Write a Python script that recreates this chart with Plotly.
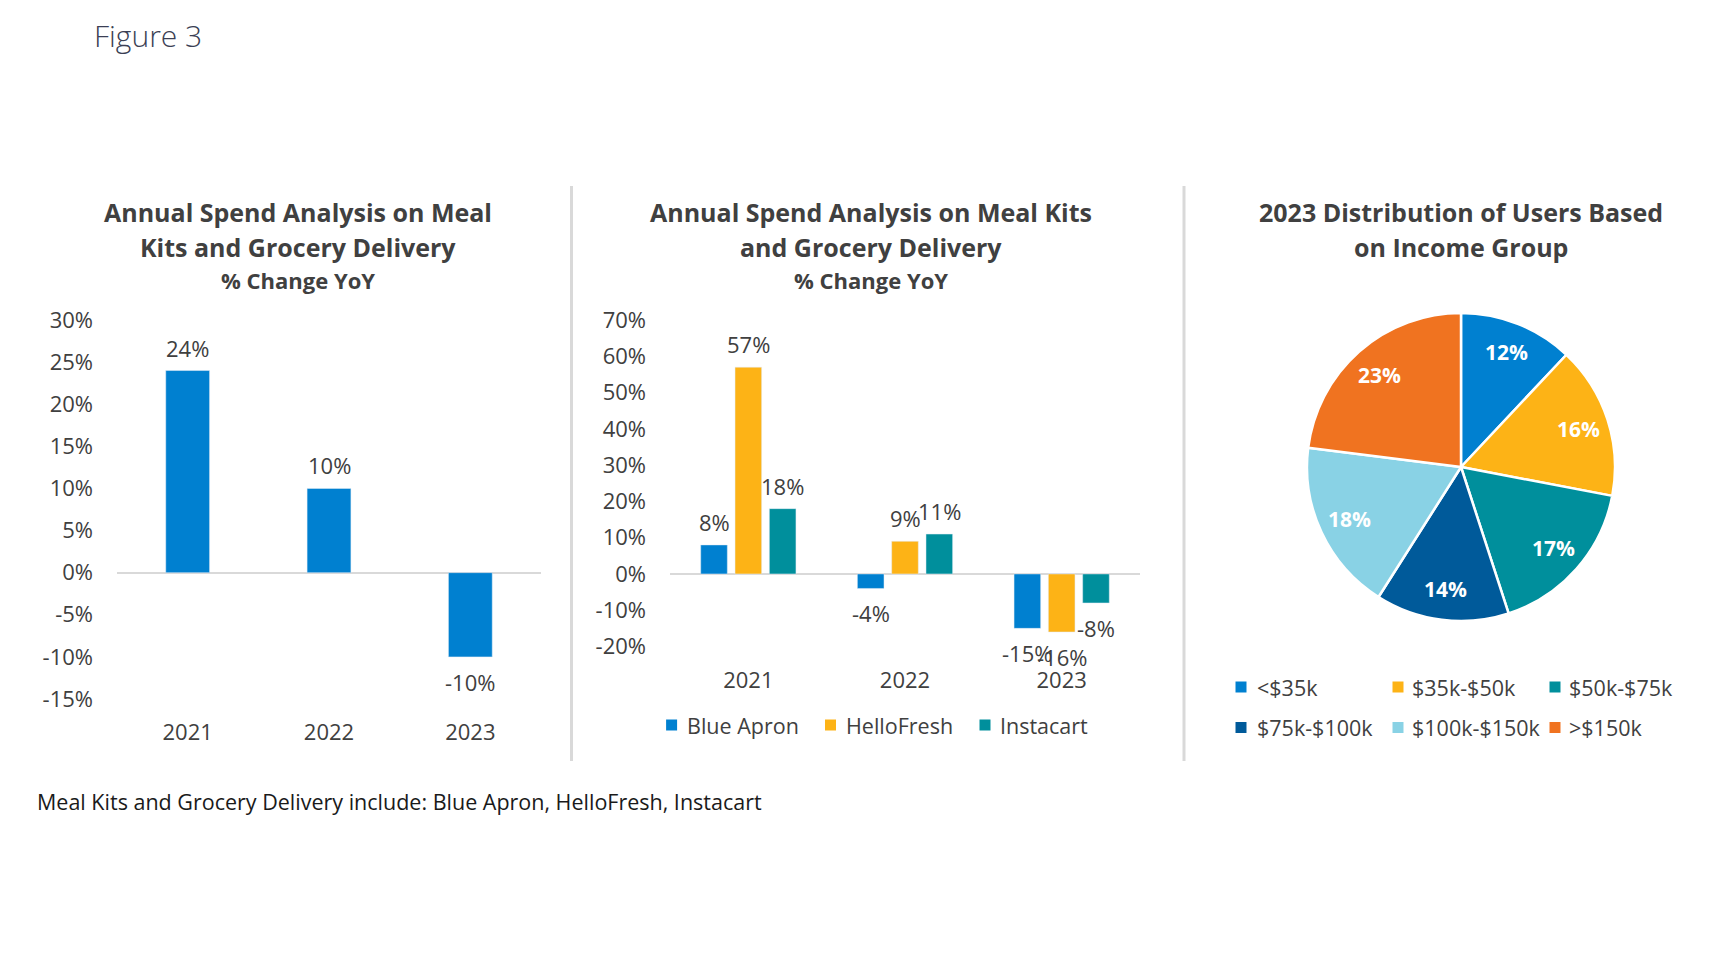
import math
import plotly.graph_objects as go

# ---------------- data ----------------
years = ["2021", "2022", "2023"]
total_change = [24, 10, -10]

brands = ["Blue Apron", "HelloFresh", "Instacart"]
blue_apron = [8, -4, -15]
hellofresh = [57, 9, -16]
instacart = [18, 11, -8]

income_groups = ["<$35k", "$35k-$50k", "$50k-$75k", "$75k-$100k", "$100k-$150k", ">$150k"]
income_share = [12, 16, 17, 14, 18, 23]

y1_ticks = [30, 25, 20, 15, 10, 5, 0, -5, -10, -15]
y2_ticks = [70, 60, 50, 40, 30, 20, 10, 0, -10, -20]

# ---------------- styling ----------------
W, H = 1718, 964
OX, OY = 8, 8          # page body margin offset
FONT = "Open Sans"
TXT = "#404040"
BLUE = "#0080D0"
YELLOW = "#FDB316"
TEAL = "#008F9C"
DBLUE = "#005A9A"
LBLUE = "#89D2E5"
ORANGE = "#F07320"
brand_colors = [BLUE, YELLOW, TEAL]
pie_colors = [BLUE, YELLOW, TEAL, DBLUE, LBLUE, ORANGE]


def px(x):
    return (x - OX) / W


def py(y):
    return 1 - (y - OY) / H


fig = go.Figure()

# ---- chart 1 ----
fig.add_trace(go.Bar(x=years, y=total_change, marker_color=BLUE, width=0.31,
                     xaxis="x", yaxis="y", showlegend=False, hoverinfo="skip"))

# ---- chart 2 ----
bw = 0.17
step = 0.219
series2 = [blue_apron, hellofresh, instacart]
for i, (name, vals) in enumerate(zip(brands, series2)):
    c_off = (i - 1) * step
    fig.add_trace(go.Bar(x=years, y=vals, name=name, marker_color=brand_colors[i],
                         width=bw, offset=c_off - bw / 2,
                         xaxis="x2", yaxis="y2", showlegend=False, hoverinfo="skip"))

# ---- chart 3 ----
PCX, PCY, PR = 1461, 467, 154
fig.add_trace(go.Pie(labels=income_groups, values=income_share, sort=False,
                     direction="clockwise", rotation=0,
                     marker=dict(colors=pie_colors, line=dict(color="white", width=2.5)),
                     textinfo="none",
                     domain=dict(x=[px(PCX - PR), px(PCX + PR)], y=[py(PCY + PR), py(PCY - PR)]),
                     showlegend=False, hoverinfo="skip"))

annotations = []
shapes = []

# pie slice labels (placed at 0.8 of radius on each slice's mid-angle)
total = sum(income_share)
cum = 0
for v in income_share:
    ang = 2 * math.pi * (cum + v / 2) / total
    cum += v
    lx = PCX + 0.8 * PR * math.sin(ang)
    ly = PCY - 0.8 * PR * math.cos(ang)
    annotations.append(dict(xref="paper", yref="paper", x=px(lx), y=py(ly), text=f"{v}%",
                            showarrow=False, xanchor="center", yanchor="middle",
                            font=dict(family=FONT, size=21, color="white", weight="bold")))

# bar data labels
def add_label(xref, yref, x, v):
    annotations.append(dict(xref=xref, yref=yref, x=x, y=v, text=f"{v}%", showarrow=False,
                            yanchor="middle", yshift=23 if v >= 0 else -25,
                            font=dict(family=FONT, size=22, color=TXT)))

for i, v in enumerate(total_change):
    add_label("x", "y", i, v)
for k, vals in enumerate(series2):
    for i, v in enumerate(vals):
        add_label("x2", "y2", i + (k - 1) * step, v)

# titles
def title(xc, lines):
    for text, y, size in lines:
        annotations.append(dict(xref="paper", yref="paper", x=px(xc), y=py(y), text=text,
                                showarrow=False, xanchor="center", yanchor="middle",
                                font=dict(family=FONT, size=size, color=TXT, weight="bold")))

title(298, [("Annual Spend Analysis on Meal", 211.5, 25), ("Kits and Grocery Delivery", 246.5, 25),
            ("% Change YoY", 279.5, 22)])
title(871, [("Annual Spend Analysis on Meal Kits", 211.5, 25), ("and Grocery Delivery", 246.5, 25),
            ("% Change YoY", 279.5, 22)])
title(1461, [("2023 Distribution of Users Based", 211.5, 25), ("on Income Group", 246.5, 25)])

annotations.append(dict(xref="paper", yref="paper", x=px(92), y=py(35), text="Figure 3",
                        showarrow=False, xanchor="left", yanchor="middle",
                        font=dict(family=FONT, size=30, color="#3B3F55", weight=300)))
annotations.append(dict(xref="paper", yref="paper", x=px(35), y=py(801),
                        text="Meal Kits and Grocery Delivery include: Blue Apron, HelloFresh, Instacart",
                        showarrow=False, xanchor="left", yanchor="middle",
                        font=dict(family=FONT, size=21.5, color="#1A1A1A")))

# legends
def legend_item(cx, tx, cy, color, label):
    s = 5.5
    shapes.append(dict(type="rect", xref="paper", yref="paper",
                       x0=px(cx - s), x1=px(cx + s), y0=py(cy + s), y1=py(cy - s),
                       fillcolor=color, line=dict(width=0)))
    annotations.append(dict(xref="paper", yref="paper", x=px(tx), y=py(cy), text=label,
                            showarrow=False, xanchor="left", yanchor="middle",
                            font=dict(family=FONT, size=21.5, color=TXT)))

for (cx, tx), color, label in zip([(671.6, 685), (830.5, 843.7), (985, 998)], brand_colors, brands):
    legend_item(cx, tx, 725, color, label)

pie_cols = [(1241, 1254.6), (1398, 1410), (1555, 1567)]
pie_rows = [687, 727.5]
for idx, (color, label) in enumerate(zip(pie_colors, income_groups)):
    cx, tx = pie_cols[idx % 3]
    legend_item(cx, tx, pie_rows[idx // 3], color, label)

# dividers
for x in (571.5, 1184):
    shapes.append(dict(type="line", xref="paper", yref="paper", x0=px(x), x1=px(x),
                       y0=py(186), y1=py(761), line=dict(color="#D9D9D9", width=3)))

axis_font = dict(family=FONT, size=22, color=TXT)
common_x = dict(type="category", range=[-0.5, 2.5], showgrid=False, showline=False,
                zeroline=False, ticks="", tickfont=axis_font, fixedrange=True,
                ticklabelstandoff=18, automargin=False)
common_y = dict(showgrid=False, showline=False, zeroline=True, zerolinecolor="#D9D9D9",
                zerolinewidth=1.5, ticks="", tickfont=axis_font, fixedrange=True,
                ticklabelstandoff=23, automargin=False)

fig.update_layout(
    width=W, height=H,
    margin=dict(l=0, r=0, t=0, b=0, autoexpand=False),
    paper_bgcolor="white", plot_bgcolor="white",
    barmode="overlay",
    xaxis=dict(domain=[px(117), px(541)], **common_x),
    yaxis=dict(domain=[py(699), py(320)], range=[-15, 30], tickvals=y1_ticks,
               ticktext=[f"{v}%" for v in y1_ticks], **common_y),
    xaxis2=dict(domain=[px(670), px(1140)], anchor="y2", **common_x),
    yaxis2=dict(domain=[py(646.5), py(320)], range=[-20, 70], anchor="x2", tickvals=y2_ticks,
                ticktext=[f"{v}%" for v in y2_ticks], **common_y),
    annotations=annotations,
    shapes=shapes,
    showlegend=False,
)

fig.write_html("out.html")
